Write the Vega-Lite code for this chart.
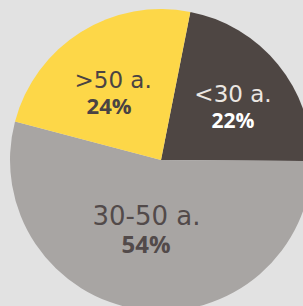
{
  "$schema": "https://vega.github.io/schema/vega-lite/v6.json",
  "width": 284,
  "height": 292,
  "autosize": "none",
  "padding": {"left": 19, "top": 14, "right": 0, "bottom": 0},
  "background": "#e2e2e2",
  "view": {"stroke": null},
  "data": {"values": [
    {"age": "<30 a.", "pct": 22, "order": 1, "pctLabel": "22%"},
    {"age": "30-50 a.", "pct": 54, "order": 2, "pctLabel": "54%"},
    {"age": ">50 a.", "pct": 24, "order": 3, "pctLabel": "24%"}
  ]},
  "encoding": {
    "theta": {"field": "pct", "type": "quantitative", "stack": true, "scale": {"domain": [0, 100], "range": [0.1955, 6.4787]}},
    "order": {"field": "order", "type": "quantitative"},
    "detail": {"field": "age", "type": "nominal"}
  },
  "layer": [
    {
      "mark": {"type": "arc", "outerRadius": 151},
      "encoding": {
        "color": {"field": "age", "type": "nominal", "legend": null,
          "scale": {"domain": ["<30 a.", "30-50 a.", ">50 a."], "range": ["#4e4643", "#a8a5a3", "#fdd748"]}}
      }
    },
    {
      "mark": {"type": "text", "radius": 80, "font": "DejaVu Sans", "fontSize": 23, "color": "#ebe6e2", "align": "center", "baseline": "alphabetic", "dx": 10, "dy": -7},
      "encoding": {"text": {"condition": {"test": "datum.age === '<30 a.'", "field": "age", "type": "nominal"}, "value": ""}}
    },
    {
      "mark": {"type": "text", "radius": 80, "font": "Open Sans", "fontWeight": "bold", "fontSize": 21, "color": "#ffffff", "align": "center", "baseline": "alphabetic", "dx": 10, "dy": 19},
      "encoding": {"text": {"condition": {"test": "datum.age === '<30 a.'", "field": "pctLabel", "type": "nominal"}, "value": ""}}
    },
    {
      "mark": {"type": "text", "radius": 80, "font": "DejaVu Sans", "fontSize": 23, "color": "#4a4343", "align": "center", "baseline": "alphabetic", "dx": -5.5, "dy": -4.5},
      "encoding": {"text": {"condition": {"test": "datum.age === '>50 a.'", "field": "age", "type": "nominal"}, "value": ""}}
    },
    {
      "mark": {"type": "text", "radius": 80, "font": "Open Sans", "fontWeight": "bold", "fontSize": 22, "color": "#4a4343", "align": "center", "baseline": "alphabetic", "dx": -9.5, "dy": 22},
      "encoding": {"text": {"condition": {"test": "datum.age === '>50 a.'", "field": "pctLabel", "type": "nominal"}, "value": ""}}
    },
    {
      "mark": {"type": "text", "radius": 80, "font": "DejaVu Sans", "fontSize": 26, "color": "#524a4a", "align": "center", "baseline": "alphabetic", "dx": -4, "dy": -14.6},
      "encoding": {"text": {"condition": {"test": "datum.age === '30-50 a.'", "field": "age", "type": "nominal"}, "value": ""}}
    },
    {
      "mark": {"type": "text", "radius": 80, "font": "Open Sans", "fontWeight": "bold", "fontSize": 24, "color": "#524a4a", "align": "center", "baseline": "alphabetic", "dx": -4.4, "dy": 13.5},
      "encoding": {"text": {"condition": {"test": "datum.age === '30-50 a.'", "field": "pctLabel", "type": "nominal"}, "value": ""}}
    }
  ]
}
